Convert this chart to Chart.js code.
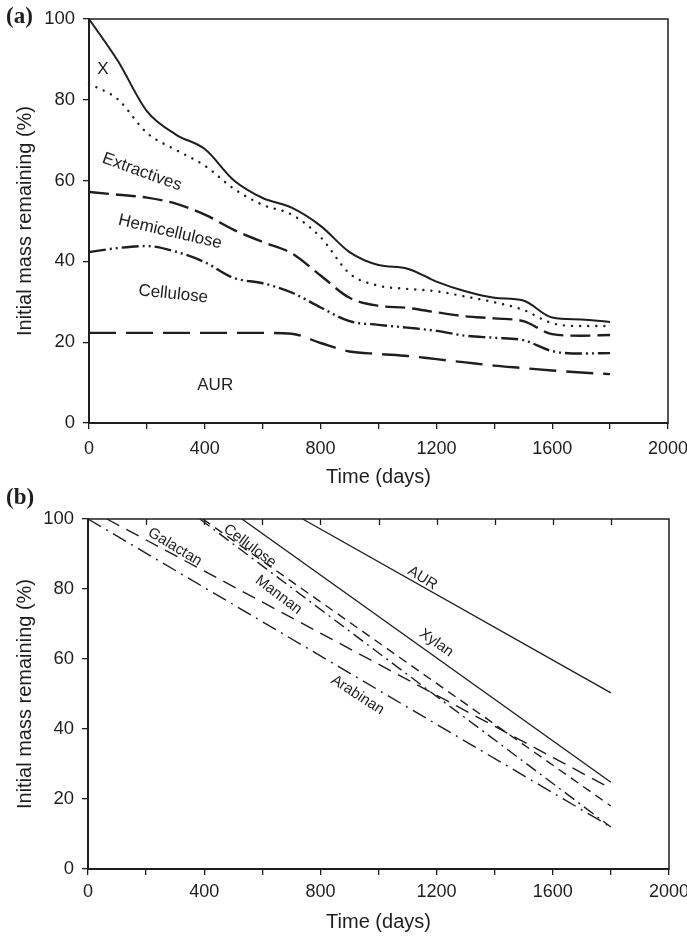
<!DOCTYPE html>
<html>
<head>
<meta charset="utf-8">
<script src="https://cdn.jsdelivr.net/npm/chart.js@4.4.1/dist/chart.umd.min.js"></script>
<style>
  html, body { margin: 0; padding: 0; background: #fff; }
  #wrap { position: relative; width: 687px; height: 936px; }
  #chartA { position: absolute; left: 0; top: 0; }
  #chartB { position: absolute; left: 0; top: 487px; }
</style>
</head>
<body>
<div id="wrap">
  <canvas id="chartA" width="687" height="487"></canvas>
  <canvas id="chartB" width="687" height="449"></canvas>
</div>
<script>
// Panel (a): mass remaining per component
const daysA = [0, 100, 200, 300, 400, 500, 600, 700, 800, 900, 1000, 1100, 1200, 1300, 1400, 1500, 1600, 1700, 1800];
const totalA = [100, 89.6, 77.2, 71.4, 67.8, 60.1, 55.7, 53.3, 48.8, 42.3, 39.1, 38.2, 35, 32.6, 31, 30.3, 26.1, 25.6, 25];
const xA = [84, 80.1, 71.8, 67.6, 63.7, 58, 54, 51.6, 46, 37, 34, 33.2, 32.6, 31.3, 29.9, 28, 24.7, 24, 24];
const hemiA = [57.2, 56.5, 55.8, 54.3, 51.6, 47.8, 44.8, 42, 36.5, 31, 29, 28.5, 27.4, 26.4, 25.9, 25.2, 22, 21.6, 21.8];
const celluA = [42.3, 43.3, 43.8, 42.4, 39.8, 35.9, 34.6, 32.3, 28.6, 25.2, 24.3, 23.6, 22.8, 21.6, 21.1, 20.5, 17.8, 17.2, 17.3];
const aurA = [22.3, 22.3, 22.3, 22.3, 22.3, 22.3, 22.3, 22.1, 19.8, 17.7, 17.1, 16.6, 15.8, 15, 14.2, 13.6, 13, 12.5, 12.1];

// Panel (b): straight lines, start and end points
const namesB = ["AUR", "Xylan", "Cellulose", "Mannan", "Galactan", "Arabinan"];
const startDayB = [739, 530, 385, 395, 65, 0];
const startValB = [100, 100, 100, 100, 100, 100];
const endDayB = [1800, 1800, 1800, 1800, 1800, 1800];
const endValB = [50.3, 24.8, 12, 18, 23, 12];

// Axis ticks
const xMin = 0, xMax = 2000, xStep = 200, xLabelStep = 400;
const yMin = 0, yMax = 100, yStep = 20;

const FONT = '"Liberation Sans", Arial, sans-serif';
const INK = "#1e1e1e";

// Text labels placed in data coordinates
const labelsA = [
  { text: "X", x: 48, y: 87.6, angle: 0 },
  { text: "Extractives", x: 183, y: 62.1, angle: 20 },
  { text: "Hemicellulose", x: 280, y: 47.3, angle: 13 },
  { text: "Cellulose", x: 291, y: 31.9, angle: 6 },
  { text: "AUR", x: 436, y: 9.4, angle: 0 }
];
const labelsB = [
  { text: "Galactan", x: 299, y: 92, angle: 31 },
  { text: "Cellulose", x: 557, y: 92.3, angle: 37 },
  { text: "Mannan", x: 656, y: 78.3, angle: 37 },
  { text: "AUR", x: 1151, y: 83.1, angle: 32 },
  { text: "Xylan", x: 1199, y: 64.6, angle: 35 },
  { text: "Arabinan", x: 928, y: 49.7, angle: 33 }
];

Chart.defaults.font.family = FONT;
Chart.defaults.color = INK;

// frame, inward top ticks, in-plot labels, panel letter
const decor = {
  id: "decor",
  afterDraw(chart, args, opts) {
    const { ctx, chartArea: a, scales } = chart;
    ctx.save();
    ctx.strokeStyle = INK;
    ctx.lineWidth = 1.5;
    ctx.beginPath();
    ctx.moveTo(a.left, a.top);
    ctx.lineTo(a.right, a.top);
    ctx.lineTo(a.right, a.bottom + 1);
    ctx.stroke();

    if (opts.topTicks) {
      ctx.lineWidth = 1.3;
      for (let d = xMin + xStep; d < xMax; d += xStep) {
        const px = Math.round(scales.x.getPixelForValue(d)) + 0.5;
        ctx.beginPath();
        ctx.moveTo(px, a.top);
        ctx.lineTo(px, a.top + 6);
        ctx.stroke();
      }
    }

    ctx.fillStyle = INK;
    ctx.font = opts.labelFont;
    ctx.textAlign = "center";
    ctx.textBaseline = "middle";
    opts.labels.forEach(l => {
      const px = scales.x.getPixelForValue(l.x);
      const py = scales.y.getPixelForValue(l.y);
      ctx.save();
      ctx.translate(px, py);
      ctx.rotate(l.angle * Math.PI / 180);
      ctx.fillText(l.text, 0, 0);
      ctx.restore();
    });

    ctx.font = 'bold 23px "Liberation Serif", "Times New Roman", serif';
    ctx.textAlign = "left";
    ctx.textBaseline = "top";
    ctx.fillText(opts.letter, opts.letterX, opts.letterY);
    ctx.restore();
  }
};

function axes(yWidth, xHeight, tickPad, titlePadBottom) {
  return {
    x: {
      type: "linear", min: xMin, max: xMax,
      ticks: {
        stepSize: xStep, padding: tickPad, autoSkip: false, maxRotation: 0,
        font: { size: 18 }, color: INK,
        callback: v => (v % xLabelStep === 0 ? String(v) : "")
      },
      grid: { drawOnChartArea: false, tickLength: 6, color: INK, lineWidth: 1.3 },
      border: { color: INK, width: 2 },
      title: { display: true, text: "Time (days)", color: INK,
               font: { size: 20, lineHeight: 1 }, padding: { top: 0, bottom: titlePadBottom } },
      afterFit: s => { s.height = xHeight; s.paddingLeft = 0; s.paddingRight = 0; }
    },
    y: {
      min: yMin, max: yMax,
      ticks: { stepSize: yStep, padding: 8, font: { size: 18.5 }, color: INK },
      grid: { drawOnChartArea: false, tickLength: 6, color: INK, lineWidth: 1.3 },
      border: { color: INK, width: 2 },
      title: { display: true, text: "Initial mass remaining (%)", color: INK,
               font: { size: 20, lineHeight: 1 }, padding: { top: 15, bottom: 0 } },
      afterFit: s => { s.width = yWidth; s.paddingTop = 0; s.paddingBottom = 0; }
    }
  };
}

function lineSet(label, xs, ys, dash, width, extra) {
  return Object.assign({
    label,
    data: xs.map((d, i) => ({ x: d, y: ys[i] })),
    borderColor: INK,
    borderWidth: width,
    borderDash: dash,
    pointRadius: 0,
    fill: false,
    clip: 6
  }, extra || {});
}

// Panel (a)
const smooth = { cubicInterpolationMode: "monotone" };
new Chart(document.getElementById("chartA"), {
  type: "line",
  data: {
    datasets: [
      lineSet("Total", daysA, totalA, [], 2, smooth),
      lineSet("X", daysA, xA, [0.1, 8], 2.4, Object.assign({ borderCapStyle: "round" }, smooth)),
      lineSet("Hemicellulose", daysA, hemiA, [20, 7], 2.4, smooth),
      lineSet("Cellulose", daysA, celluA, [17, 4, 2, 4, 2, 4], 2.4, smooth),
      lineSet("AUR", daysA, aurA, [27, 10], 2.4, smooth)
    ]
  },
  options: {
    responsive: false,
    animation: false,
    layout: { padding: { top: 19, right: 19, left: 0, bottom: 0 } },
    plugins: {
      legend: { display: false },
      tooltip: { enabled: false },
      decor: { labels: labelsA, labelFont: "17px " + FONT, letter: "(a)", letterX: 6, letterY: 6, topTicks: false }
    },
    scales: axes(89, 64, 9, 0)
  },
  plugins: [decor]
});

// Panel (b)
const dashB = [[], [], [12, 5, 2, 5], [9, 6], [14, 8], [15, 6, 2, 6]];
new Chart(document.getElementById("chartB"), {
  type: "line",
  data: {
    datasets: namesB.map((n, i) =>
      lineSet(n, [startDayB[i], endDayB[i]], [startValB[i], endValB[i]], dashB[i], 1.4))
  },
  options: {
    responsive: false,
    animation: false,
    layout: { padding: { top: 32, right: 18, left: 0, bottom: 0 } },
    plugins: {
      legend: { display: false },
      tooltip: { enabled: false },
      decor: { labels: labelsB, labelFont: "15px " + FONT, letter: "(b)", letterX: 6, letterY: 0, topTicks: true }
    },
    scales: axes(88, 67, 6, 4)
  },
  plugins: [decor]
});
</script>
</body>
</html>
